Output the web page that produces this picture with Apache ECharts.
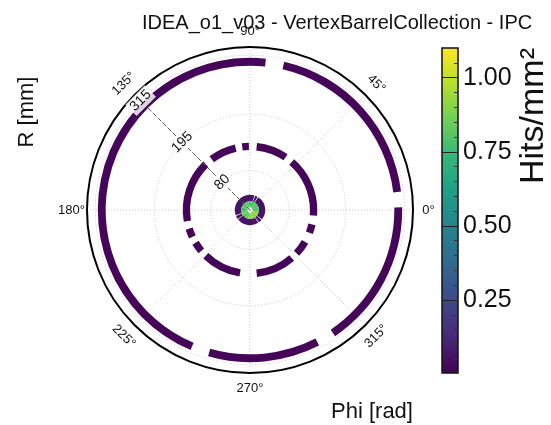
<!DOCTYPE html>
<html>
<head>
<meta charset="utf-8">
<script src="https://cdn.jsdelivr.net/npm/echarts@6/dist/echarts.min.js"></script>
<style>
  html, body { margin: 0; padding: 0; background: #fff; }
  #chart { width: 551px; height: 425px; }
</style>
</head>
<body>
<div id="chart"></div>
<script>
// radial extent of each layer, mm
const outerR = [294, 310];
const middleR = [122, 137];
const innerR = [18, 31];
const coreR = [5, 18];

// [phi from, phi to, hits/mm2] per segment, degrees
const outerSegs = [[0, 1, 0.02], [7, 77, 0.02], [84, 247, 0.02], [254, 297, 0.02], [304, 360, 0.02]];
const middleSegs = [
  [0, 49, 0.02], [56, 84, 0.02], [91, 97, 0.02], [103, 127, 0.02], [134, 190, 0.02],
  [197, 205, 0.02], [211, 220, 0.02], [226, 261, 0.02], [276, 311, 0.02],
  [317, 330, 0.02], [339, 347, 0.02], [355, 360, 0.02]
];
const innerSegs = [
  [0, 57, 0.06], [60, 70, 0.06], [73, 200, 0.06], [203, 216, 0.06],
  [219, 303, 0.06], [306, 319, 0.06], [322, 360, 0.06]
];
// innermost disc, 20 degree bins
const coreEdges = [0, 20, 40, 60, 80, 100, 120, 140, 160, 180, 200, 220, 240, 260, 280, 300, 320, 340, 360];
const coreVals = [0.80, 0.78, 0.82, 0.76, 0.80, 0.78, 0.84, 0.80, 0.76, 0.82, 0.86, 0.80, 0.84, 0.90, 0.94, 0.88, 0.92, 0.84];

const angleTicks = [0, 45, 90, 135, 180, 225, 270, 315];
const angleLabels = ['0°', '45°', '90°', '135°', '180°', '225°', '270°', '315°'];
const rTicks = [80, 195, 315];
const cbarMajor = [0.25, 0.5, 0.75, 1.0];
const cbarMinor = [0.05, 0.1, 0.15, 0.2, 0.3, 0.35, 0.4, 0.45, 0.55, 0.6, 0.65, 0.7, 0.8, 0.85, 0.9, 0.95, 1.05];

const viridis = ['#440154', '#482878', '#3e4989', '#31688e', '#26828e', '#1f9e89', '#35b779', '#6ece58', '#b5de2b', '#fde725'];

const rMax = 332;
const cx = 250, cy = 210, rPx = 163;
const FONT = 'Liberation Sans, Arial, sans-serif';

const cells = [];
outerSegs.forEach(s => cells.push([outerR[0], outerR[1], s[0], s[1], s[2]]));
middleSegs.forEach(s => cells.push([middleR[0], middleR[1], s[0], s[1], s[2]]));
innerSegs.forEach(s => cells.push([innerR[0], innerR[1], s[0], s[1], s[2]]));
coreVals.forEach((v, i) => cells.push([coreR[0], coreR[1], coreEdges[i], coreEdges[i + 1], v]));

function renderCell(params, api) {
  const cs = params.coordSys;
  const pIn = api.coord([api.value(0), api.value(2)]);
  const pOut = api.coord([api.value(1), api.value(2)]);
  const pEnd = api.coord([api.value(1), api.value(3)]);
  const r0 = Math.hypot(pIn[0] - cs.cx, pIn[1] - cs.cy);
  const r = Math.hypot(pOut[0] - cs.cx, pOut[1] - cs.cy);
  const a0 = Math.atan2(pOut[1] - cs.cy, pOut[0] - cs.cx);
  const a1 = Math.atan2(pEnd[1] - cs.cy, pEnd[0] - cs.cx);
  let end = a0;
  while (end <= a1) end += Math.PI * 2;
  return {
    type: 'sector',
    shape: { cx: cs.cx, cy: cs.cy, r0: r0, r: r, startAngle: a1, endAngle: end, clockwise: true },
    style: { fill: api.visual('color') }
  };
}

// phi tick labels, rotated like the reference (tangential on the diagonals)
function renderAngleLabel(params, api) {
  const cs = params.coordSys;
  const a = api.value(0);
  const p = api.coord([rMax, a]);
  const dx = p[0] - cs.cx, dy = p[1] - cs.cy;
  const d = Math.hypot(dx, dy);
  const off = 15.5;
  let rot = 0;
  if (a % 90 !== 0) rot = a < 180 ? a - 90 : a - 270;
  return {
    type: 'text',
    x: p[0] + dx / d * off,
    y: p[1] + dy / d * off,
    rotation: rot * Math.PI / 180,
    style: {
      text: angleLabels[params.dataIndex],
      fill: '#111',
      font: '13px ' + FONT,
      align: 'center',
      verticalAlign: 'middle'
    }
  };
}

const chart = echarts.init(document.getElementById('chart'));

chart.setOption({
  backgroundColor: '#fff',
  animation: false,
  textStyle: { fontFamily: FONT },
  title: {
    text: 'IDEA_o1_v03 - VertexBarrelCollection - IPC',
    left: 137,
    top: 8,
    textStyle: { fontSize: 20, fontWeight: 'normal', color: '#111', fontFamily: FONT }
  },
  polar: [
    { center: [cx, cy], radius: rPx },
    { center: [cx, cy], radius: rPx * 315 / rMax }
  ],
  angleAxis: [
    {
      polarIndex: 0, type: 'value', min: 0, max: 360, interval: 45,
      startAngle: 0, clockwise: false,
      axisLine: { lineStyle: { color: '#000', width: 2 } },
      axisTick: { show: false },
      axisLabel: { show: false },
      splitLine: { lineStyle: { color: '#c8c8c8', type: [1, 2], width: 1 } }
    },
    {
      polarIndex: 1, type: 'value', min: 0, max: 360, startAngle: 135, clockwise: false,
      axisLine: { show: false }, axisTick: { show: false },
      axisLabel: { show: false }, splitLine: { show: false }
    }
  ],
  radiusAxis: [
    {
      polarIndex: 0, type: 'value', min: 0, max: rMax,
      axisLine: { show: false },
      axisTick: { show: false, customValues: rTicks },
      axisLabel: { show: false, customValues: rTicks },
      splitLine: { show: true, lineStyle: { color: '#c8c8c8', type: [1, 2], width: 1 } }
    },
    {
      polarIndex: 1, type: 'value', min: 0, max: 315, z: 10,
      axisLine: { show: true, lineStyle: { color: '#555', type: [4, 3], width: 1 } },
      axisTick: { show: false, customValues: rTicks },
      splitLine: { show: false },
      axisLabel: {
        customValues: rTicks,
        rotate: 45, margin: 0, align: 'center', verticalAlign: 'middle',
        fontSize: 14, color: '#111', fontFamily: FONT,
        backgroundColor: 'rgba(255,255,255,0.82)', padding: [1, 2]
      }
    }
  ],
  visualMap: {
    type: 'continuous',
    min: 0.004, max: 1.1,
    dimension: 4,
    seriesIndex: 0,
    calculable: false,
    orient: 'vertical',
    left: 442, top: 48,
    itemWidth: 16, itemHeight: 325,
    padding: 0,
    text: null,
    inRange: { color: viridis }
  },
  // colorbar frame, ticks and labels drawn over the visualMap bar
  grid: {
    left: 442, top: 48, width: 16, height: 325,
    show: true, backgroundColor: 'transparent',
    borderColor: '#111', borderWidth: 1.5, z: 10
  },
  xAxis: { type: 'value', show: false, min: 0, max: 1 },
  yAxis: [
    {
      type: 'value', min: 0.004, max: 1.1, position: 'right', z: 10,
      axisLine: { show: false, onZero: false },
      splitLine: { show: false },
      axisTick: { inside: true, length: 4, customValues: cbarMinor, lineStyle: { color: '#333', width: 1 } },
      axisLabel: {
        customValues: cbarMajor, margin: 5, fontSize: 25, color: '#111', fontFamily: FONT,
        formatter: v => v.toFixed(2)
      }
    },
    {
      type: 'value', min: 0.004, max: 1.1, position: 'left', z: 10,
      axisLine: { show: false, onZero: false },
      splitLine: { show: false },
      axisTick: { inside: true, length: 16, customValues: cbarMajor, lineStyle: { color: '#222', width: 1 } },
      axisLabel: { show: false }
    }
  ],
  graphic: [
    {
      type: 'text', x: 534, y: 116, rotation: Math.PI / 2,
      style: { text: 'Hits/mm²', font: '34px ' + FONT, fill: '#111', align: 'center', verticalAlign: 'middle' }
    },
    {
      type: 'text', x: 27, y: 112, rotation: Math.PI / 2,
      style: { text: 'R [mm]', font: '22px ' + FONT, fill: '#111', align: 'center', verticalAlign: 'middle' }
    },
    {
      type: 'text', x: 372, y: 412,
      style: { text: 'Phi [rad]', font: '22px ' + FONT, fill: '#111', align: 'center', verticalAlign: 'middle' }
    }
  ],
  series: [
    {
      type: 'custom',
      name: 'hits',
      coordinateSystem: 'polar',
      polarIndex: 0,
      encode: { radius: [0, 1], angle: [2, 3] },
      renderItem: renderCell,
      data: cells,
      z: 2
    },
    {
      type: 'custom',
      name: 'phiLabels',
      coordinateSystem: 'polar',
      polarIndex: 0,
      encode: { angle: 0 },
      renderItem: renderAngleLabel,
      data: angleTicks.map(a => [a]),
      silent: true,
      z: 5
    }
  ]
});
</script>
</body>
</html>
